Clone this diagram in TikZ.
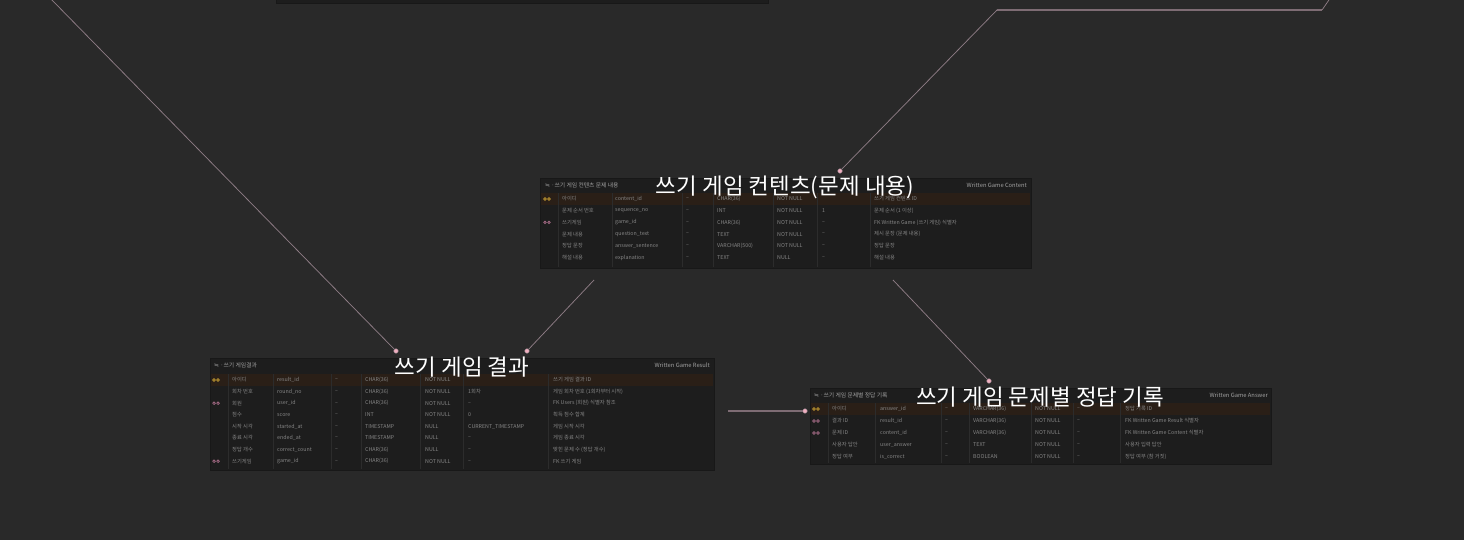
\documentclass[tikz,border=0pt]{standalone}
\usepackage{fontspec}
\setmainfont{Noto Sans CJK KR}
\newfontfamily\symfont{DejaVu Sans}
\definecolor{bgc}{HTML}{292929}
\definecolor{tblbg}{HTML}{1D1D1D}
\definecolor{tbledge}{HTML}{181818}
\definecolor{hirow}{HTML}{2A1F17}
\definecolor{sepc}{HTML}{2C2C2C}
\definecolor{cellc}{HTML}{858585}
\definecolor{headc}{HTML}{A0A0A0}
\definecolor{linec}{HTML}{8E7C85}
\definecolor{thickc}{HTML}{7E6C74}
\definecolor{dotc}{HTML}{F0AFC0}
\definecolor{pkc}{HTML}{C9A032}
\definecolor{fkc}{HTML}{A86C88}
\tikzset{
  tbl/.style={fill=tblbg, draw=tbledge, line width=0.6pt, anchor=north west, inner sep=0pt},
  cell/.style={anchor=west, inner sep=0pt, text=cellc, font=\fontsize{5.3}{6}\selectfont},
  headl/.style={anchor=west, inner sep=0pt, text=headc, font=\fontsize{5.8}{6}\selectfont},
  headr/.style={anchor=east, inner sep=0pt, text=headc, font=\fontsize{5.8}{6}\selectfont},
  ttl/.style={inner sep=0pt, text=white, font=\fontsize{22.5}{24}\selectfont},
  conn/.style={draw=linec, line width=0.75pt},
  thickconn/.style={draw=thickc, line width=2.8pt},
  enddot/.style={circle, fill=dotc, draw=linec, line width=0.4pt, inner sep=0pt, minimum size=4.6pt},
  keyic/.style={circle, draw=#1, line width=0.7pt, inner sep=0pt, minimum size=2.6pt},
}
\newcommand\tabrow[4]{%
  \foreach \cx/\ct in {#4} {\node[cell] (#1-#2-\cx) at (\cx,#3) {\ct};}}
\newcommand\keyicon[4]{% name, x, y, colour
  \node[keyic=#4] (#1a) at (#2,#3) {};
  \node[keyic=#4] (#1b) at (#2+4,#3) {};}
\begin{document}
\begin{tikzpicture}[x=1pt,y=-1pt]
\fill[bgc] (0,0) rectangle (1464,540);
\useasboundingbox (0,0) rectangle (1464,540);

% ---------- top partial table ----------
\node[tbl, minimum width=492pt, minimum height=10pt] (toptbl) at (276,-7) {};

% ---------- middle table : content ----------
\node[tbl, minimum width=491pt, minimum height=90pt] (content) at (540,178) {};
\fill[hirow] (541,193) rectangle (1030,205);
\foreach \sx in {558,612,682,713,773,817,870}
  \draw[sepc, line width=0.5pt] (\sx,193) -- (\sx,267);
\node[headl] (contentL) at (545,185) {{\symfont ≒} ·쓰기 게임 컨텐츠 문제 내용};
\node[headr] (contentR) at (1027,185) {Written Game Content};
\keyicon{ck1}{545}{199}{pkc}
\keyicon{ck3}{545}{222.4}{fkc}
\tabrow{c}{1}{199}{562/아이디, 615/content\_id, 686/--, 717/CHAR(36), 777/NOT NULL, 874/쓰기 게임 컨텐츠 ID}
\tabrow{c}{2}{210.7}{562/문제 순서 번호, 615/sequence\_no, 686/--, 717/INT, 777/NOT NULL, 822/1, 874/문제 순서 (1 이상)}
\tabrow{c}{3}{222.4}{562/쓰기게임, 615/game\_id, 686/--, 717/CHAR(36), 777/NOT NULL, 822/--, 874/FK Written Game (쓰기 게임) 식별자}
\tabrow{c}{4}{234.1}{562/문제 내용, 615/question\_text, 686/--, 717/TEXT, 777/NOT NULL, 822/--, 874/제시 문장 (문제 내용)}
\tabrow{c}{5}{245.8}{562/정답 문장, 615/answer\_sentence, 686/--, 717/VARCHAR(500), 777/NOT NULL, 822/--, 874/정답 문장}
\tabrow{c}{6}{257.5}{562/해설 내용, 615/explanation, 686/--, 717/TEXT, 777/NULL, 822/--, 874/해설 내용}
\node[ttl] (contentT) at (785,187) {쓰기 게임 컨텐츠(문제 내용)};

% ---------- bottom-left table : result ----------
\node[tbl, minimum width=504pt, minimum height=112pt] (result) at (210,358) {};
\fill[hirow] (211,374) rectangle (713,386);
\foreach \sx in {228,273,331,361,420,463,548}
  \draw[sepc, line width=0.5pt] (\sx,374) -- (\sx,469);
\node[headl] (resultL) at (214,365) {{\symfont ≒} ·쓰기 게임결과};
\node[headr] (resultR) at (710,365) {Written Game Result};
\keyicon{rk1}{214}{380}{pkc}
\keyicon{rk3}{214}{403.2}{fkc}
\keyicon{rk8}{214}{461.2}{fkc}
\tabrow{r}{1}{380}{232/아이디, 277/result\_id, 335/--, 365/CHAR(36), 425/NOT NULL, 553/쓰기 게임 결과 ID}
\tabrow{r}{2}{391.6}{232/회차 번호, 277/round\_no, 335/--, 365/CHAR(36), 425/NOT NULL, 468/1회차, 553/게임 회차 번호 (1회차부터 시작)}
\tabrow{r}{3}{403.2}{232/회원, 277/user\_id, 335/--, 365/CHAR(36), 425/NOT NULL, 468/--, 553/FK Users (회원) 식별자 참조}
\tabrow{r}{4}{414.8}{232/점수, 277/score, 335/--, 365/INT, 425/NOT NULL, 468/0, 553/획득 점수 합계}
\tabrow{r}{5}{426.4}{232/시작 시각, 277/started\_at, 335/--, 365/TIMESTAMP, 425/NULL, 468/CURRENT\_TIMESTAMP, 553/게임 시작 시각}
\tabrow{r}{6}{438}{232/종료 시각, 277/ended\_at, 335/--, 365/TIMESTAMP, 425/NULL, 468/--, 553/게임 종료 시각}
\tabrow{r}{7}{449.6}{232/정답 개수, 277/correct\_count, 335/--, 365/CHAR(36), 425/NULL, 468/--, 553/맞힌 문제 수 (정답 개수)}
\tabrow{r}{8}{461.2}{232/쓰기게임, 277/game\_id, 335/--, 365/CHAR(36), 425/NOT NULL, 468/--, 553/FK 쓰기 게임}
\node[ttl] (resultT) at (462,367) {쓰기 게임 결과};

% ---------- bottom-right table : answer ----------
\node[tbl, minimum width=461pt, minimum height=76pt] (answer) at (810,388) {};
\fill[hirow] (811,403) rectangle (1270,415);
\foreach \sx in {828,875,941,969,1031,1073,1120}
  \draw[sepc, line width=0.5pt] (\sx,403) -- (\sx,463);
\node[headl] (answerL) at (814,395) {{\symfont ≒} ·쓰기 게임 문제별 정답 기록};
\node[headr] (answerR) at (1268,395) {Written Game Answer};
\keyicon{ak1}{814}{409}{pkc}
\keyicon{ak2}{814}{421}{fkc}
\keyicon{ak3}{814}{433}{fkc}
\tabrow{a}{1}{409}{832/아이디, 880/answer\_id, 945/--, 973/VARCHAR(36), 1035/NOT NULL, 1077/--, 1125/정답 기록 ID}
\tabrow{a}{2}{421}{832/결과 ID, 880/result\_id, 945/--, 973/VARCHAR(36), 1035/NOT NULL, 1077/--, 1125/FK Written Game Result 식별자}
\tabrow{a}{3}{433}{832/문제 ID, 880/content\_id, 945/--, 973/VARCHAR(36), 1035/NOT NULL, 1077/--, 1125/FK Written Game Content 식별자}
\tabrow{a}{4}{445}{832/사용자 답안, 880/user\_answer, 945/--, 973/TEXT, 1035/NOT NULL, 1077/--, 1125/사용자 입력 답안}
\tabrow{a}{5}{457}{832/정답 여부, 880/is\_correct, 945/--, 973/BOOLEAN, 1035/NOT NULL, 1077/--, 1125/정답 여부 (참 거짓)}
\node[ttl] (answerT) at (1040,397) {쓰기 게임 문제별 정답 기록};

% ---------- connectors ----------
\coordinate (offA) at (49,-3);
\coordinate (sB) at (594,280);
\coordinate (sC) at (893,280);
\coordinate (bendD1) at (997,10);
\coordinate (bendD2) at (1322,10);
\coordinate (offD) at (1331,-3);
\coordinate (sE) at (728,411);

\node[enddot] (dA) at (396,351) {};
\node[enddot] (dB) at (527,351) {};
\node[enddot] (dC) at (989,381) {};
\node[enddot] (dD) at (840,171) {};
\node[enddot] (dE) at (805,411) {};

\draw[conn] (offA) -- (dA);
\draw[conn] (sB) -- (dB);
\draw[conn] (sC) -- (dC);
\draw[conn] (dD) -- (bendD1);
\draw[thickconn] (bendD1) -- (bendD2);
\draw[conn] (bendD2) -- (offD);
\draw[thickconn] (sE) -- (dE);
\end{tikzpicture}
\end{document}
